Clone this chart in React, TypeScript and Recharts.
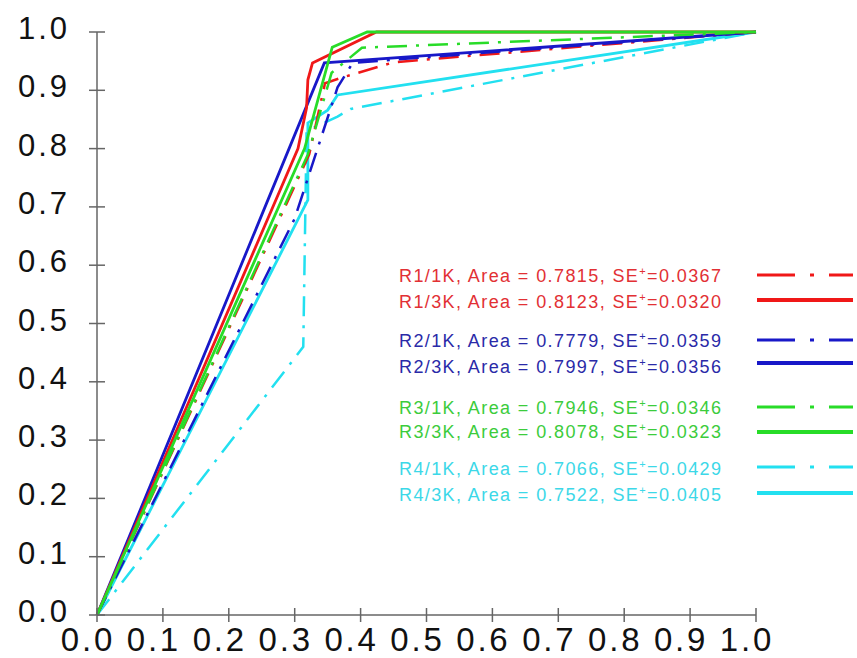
import React from 'react';
import { LineChart, Line, XAxis, YAxis } from 'recharts';

// ---- data ----
const axisTicks = [0, 0.1, 0.2, 0.3, 0.4, 0.5, 0.6, 0.7, 0.8, 0.9, 1.0];

const r1_1k_x = [0, 0.322, 0.346, 0.372, 0.45, 1];
const r1_1k_y = [0, 0.79, 0.912, 0.922, 0.948, 1];

const r1_3k_x = [0, 0.305, 0.318, 0.32, 0.327, 0.424, 1];
const r1_3k_y = [0, 0.8, 0.87, 0.918, 0.947, 1, 1];

const r2_1k_x = [0, 0.3, 0.365, 0.388, 1];
const r2_1k_y = [0, 0.68, 0.905, 0.947, 1];

const r2_3k_x = [0, 0.345, 1];
const r2_3k_y = [0, 0.947, 1];

const r3_1k_x = [0, 0.32, 0.356, 0.402, 1];
const r3_1k_y = [0, 0.79, 0.93, 0.973, 1];

const r3_3k_x = [0, 0.315, 0.357, 0.41, 1];
const r3_3k_y = [0, 0.8, 0.974, 1, 1];

const r4_1k_x = [0, 0.313, 0.318, 0.365, 0.385, 1];
const r4_1k_y = [0, 0.46, 0.83, 0.855, 0.868, 1];

const r4_3k_x = [0, 0.32, 0.32, 0.35, 0.365, 1];
const r4_3k_y = [0, 0.712, 0.844, 0.866, 0.892, 1];

const seriesNames = ['R1/1K', 'R1/3K', 'R2/1K', 'R2/3K', 'R3/1K', 'R3/3K', 'R4/1K', 'R4/3K'];
const seriesAreas = ['0.7815', '0.8123', '0.7779', '0.7997', '0.7946', '0.8078', '0.7066', '0.7522'];
const seriesSE = ['0.0367', '0.0320', '0.0359', '0.0356', '0.0346', '0.0323', '0.0429', '0.0405'];

const toPoints = (xs: number[], ys: number[]) => xs.map((x, i) => ({ x, y: ys[i] }));

const lineColors = ['#f01818', '#f01818', '#1818c8', '#1818c8', '#28dc28', '#28dc28', '#22e0f0', '#22e0f0'];
const textColors = ['#e23034', '#e23034', '#2a2aa8', '#2a2aa8', '#3ccc3c', '#3ccc3c', '#3cd8e8', '#3cd8e8'];
const dashed = [true, false, true, false, true, false, true, false];

const seriesData = [
  toPoints(r1_1k_x, r1_1k_y),
  toPoints(r1_3k_x, r1_3k_y),
  toPoints(r2_1k_x, r2_1k_y),
  toPoints(r2_3k_x, r2_3k_y),
  toPoints(r3_1k_x, r3_1k_y),
  toPoints(r3_3k_x, r3_3k_y),
  toPoints(r4_1k_x, r4_1k_y),
  toPoints(r4_3k_x, r4_3k_y),
];

// drawing order (index into series)
const drawOrder = [6, 7, 0, 2, 3, 1, 4, 5];

const FONT = '"Liberation Sans", Arial, sans-serif';

const legendTextY = [281.5, 308, 346.5, 373, 414, 438, 475, 501];
const legendLineY = [275, 300, 340, 363, 407, 432, 467, 493];

const YTick = (props: any) => {
  const { x, y, payload } = props;
  return (
    <g>
      <line x1={x - 8} x2={x + 8} y1={y} y2={y} stroke="#666" strokeWidth={1.5} />
      <text x={x - 27} y={y + 7} textAnchor="end" fontSize={31} letterSpacing={3} fill="#111" fontFamily={FONT}>
        {Number(payload.value).toFixed(1)}
      </text>
    </g>
  );
};

const XTick = (props: any) => {
  const { x, y, payload } = props;
  return (
    <g>
      <line x1={x} x2={x} y1={y - 7} y2={y + 7} stroke="#666" strokeWidth={1.5} />
      <text x={x - 9} y={y + 36} textAnchor="middle" fontSize={33} letterSpacing={2.8} fill="#111" fontFamily={FONT}>
        {Number(payload.value).toFixed(1)}
      </text>
    </g>
  );
};

const LegendBlock = () => (
  <g>
    {seriesNames.map((name, i) => (
      <g key={name}>
        <text x={399} y={legendTextY[i]} fontSize={18} letterSpacing={1.4} fill={textColors[i]} fontFamily={FONT}>
          {`${name}, Area = ${seriesAreas[i]}, SE`}
          <tspan fontSize={11} dy={-7}>+</tspan>
          <tspan dy={7}>{`=${seriesSE[i]}`}</tspan>
        </text>
        <line
          x1={757}
          x2={853}
          y1={legendLineY[i]}
          y2={legendLineY[i]}
          stroke={lineColors[i]}
          strokeWidth={dashed[i] ? 3 : 4}
          strokeDasharray={dashed[i] ? '38 15 4 15' : undefined}
        />
      </g>
    ))}
  </g>
);

export default function App() {
  return (
    <div style={{ position: 'absolute', left: 0, top: 0, background: '#fff' }}>
      <LineChart width={857} height={658} margin={{ top: 32, right: 101, bottom: 0, left: 0 }}>
        <XAxis
          type="number"
          dataKey="x"
          domain={[0, 1]}
          ticks={axisTicks}
          height={43}
          tickSize={0}
          tickMargin={0}
          tickLine={false}
          axisLine={{ stroke: '#666', strokeWidth: 1.5 }}
          tick={<XTick />}
          interval={0}
          allowDuplicatedCategory={false}
        />
        <YAxis
          type="number"
          domain={[0, 1]}
          ticks={axisTicks}
          width={97}
          tickSize={0}
          tickMargin={0}
          tickLine={false}
          axisLine={{ stroke: '#666', strokeWidth: 1.5 }}
          tick={<YTick />}
          interval={0}
        />
        {drawOrder.map((i) => (
          <Line
            key={seriesNames[i]}
            data={seriesData[i]}
            dataKey="y"
            type="linear"
            stroke={lineColors[i]}
            strokeWidth={dashed[i] ? 2.5 : 2.8}
            strokeDasharray={dashed[i] ? '20 9 3 9' : undefined}
            dot={false}
            activeDot={false}
            isAnimationActive={false}
          />
        ))}
        <LegendBlock />
      </LineChart>
    </div>
  );
}
